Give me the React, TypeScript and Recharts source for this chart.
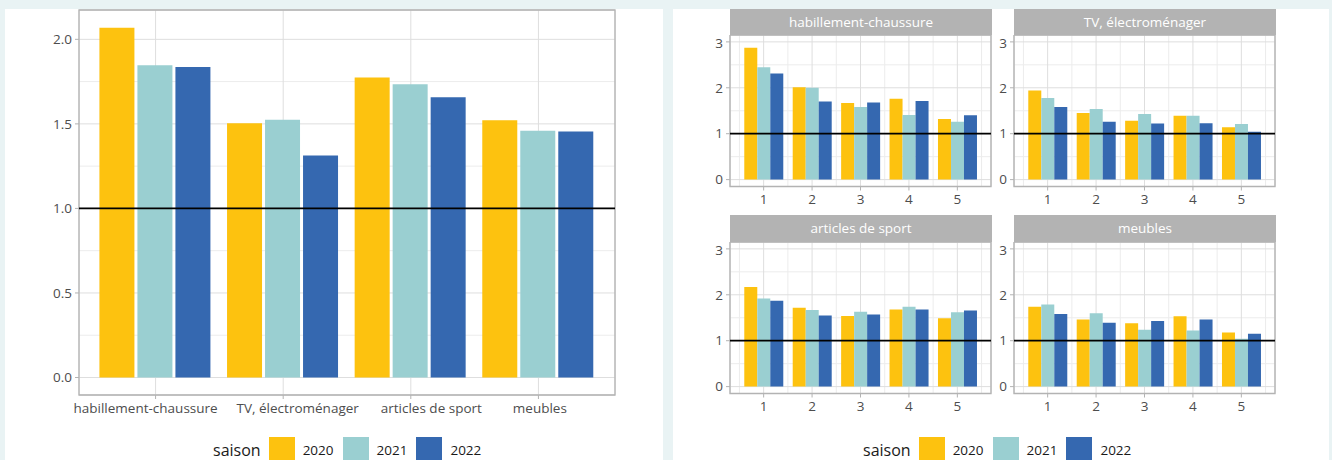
import React from 'react';
import { BarChart, Bar, XAxis, YAxis, CartesianGrid, ReferenceLine, ReferenceArea } from 'recharts';

// ---------- data ----------
const categories = ['habillement-chaussure', 'TV, électroménager', 'articles de sport', 'meubles'];
const seasons = ['2020', '2021', '2022'];

const overall2020 = [2.068, 1.504, 1.774, 1.522];
const overall2021 = [1.847, 1.525, 1.735, 1.46];
const overall2022 = [1.837, 1.313, 1.657, 1.455];

const ranks = [1, 2, 3, 4, 5];

const habillement2020 = [2.87, 2.01, 1.67, 1.76, 1.32];
const habillement2021 = [2.45, 2.0, 1.58, 1.41, 1.26];
const habillement2022 = [2.31, 1.7, 1.68, 1.71, 1.4];

const tv2020 = [1.94, 1.45, 1.28, 1.39, 1.14];
const tv2021 = [1.78, 1.54, 1.43, 1.39, 1.21];
const tv2022 = [1.58, 1.26, 1.22, 1.23, 1.04];

const sport2020 = [2.17, 1.72, 1.54, 1.68, 1.49];
const sport2021 = [1.92, 1.67, 1.63, 1.74, 1.62];
const sport2022 = [1.87, 1.55, 1.57, 1.68, 1.66];

const meubles2020 = [1.74, 1.46, 1.38, 1.53, 1.18];
const meubles2021 = [1.79, 1.6, 1.24, 1.22, 1.04];
const meubles2022 = [1.58, 1.39, 1.43, 1.46, 1.15];

const mainYTicks = [0, 0.5, 1, 1.5, 2];
const mainYMinor = [0.25, 0.75, 1.25, 1.75];
const facetYTicks = [0, 1, 2, 3];
const facetYMinor = [0.5, 1.5, 2.5];
const facetXMinor = [0.5, 1.5, 2.5, 3.5, 4.5, 5.5];

// ---------- styles ----------
const COLORS = ['#FDC20F', '#9ACFD1', '#3568B0'];
const FONT = '"Open Sans", "Noto Sans", sans-serif';
const GRID_MAJOR = '#dedede';
const GRID_MINOR = '#ececec';
const BORDER = '#b3b3b3';
const AXIS_TEXT = '#4d4d4d';
const FS = 13.5;
// horizontal nudge of the main chart's category labels (px), as in the reference
const LABEL_NUDGE = [-10, 14.5, 20.5, 1.4];

const mainData = categories.map((c, i) => ({
  pos: i + 1,
  cat: c,
  y2020: overall2020[i],
  y2021: overall2021[i],
  y2022: overall2022[i],
}));

const mkFacet = (a: number[], b: number[], c: number[]) =>
  ranks.map((r, i) => ({ rank: r, y2020: a[i], y2021: b[i], y2022: c[i] }));

const facets = [
  { title: 'habillement-chaussure', data: mkFacet(habillement2020, habillement2021, habillement2022) },
  { title: 'TV, électroménager', data: mkFacet(tv2020, tv2021, tv2022) },
  { title: 'articles de sport', data: mkFacet(sport2020, sport2021, sport2022) },
  { title: 'meubles', data: mkFacet(meubles2020, meubles2021, meubles2022) },
];

const seriesKeys = ['y2020', 'y2021', 'y2022'];

function Legend({ left, top }: { left: number; top: number }) {
  return (
    <div style={{ position: 'absolute', left, top, height: 26, display: 'flex', alignItems: 'center', fontFamily: FONT, color: '#1a1a1a' }}>
      <span style={{ fontSize: 16, marginRight: 8 }}>saison</span>
      {seasons.map((s, i) => (
        <React.Fragment key={s}>
          <span style={{ width: 26, height: 26, background: COLORS[i], marginRight: 8, display: 'inline-block' }} />
          <span style={{ fontSize: FS, marginRight: 9 }}>{s}</span>
        </React.Fragment>
      ))}
    </div>
  );
}

function CategoryTick(props: any) {
  const { x, y, payload } = props;
  const idx = Math.round(payload.value) - 1;
  const label = categories[idx] ?? '';
  return (
    <text x={x + (LABEL_NUDGE[idx] ?? 0)} y={y} dy="0.71em" textAnchor="middle" fill={AXIS_TEXT} fontSize={FS} fontFamily={FONT}>
      {label}
    </text>
  );
}

const PW = 261;
const PH = 151.5;
const YW = 30;
const XH = 25;
const FX_DOMAIN: [number, number] = [0.305, 5.695];
const FY_DOMAIN: [number, number] = [-0.15, 3.15];

function Facet({ title, data, plotLeft, plotTop }: { title: string; data: any[]; plotLeft: number; plotTop: number }) {
  return (
    <>
      <div
        style={{
          position: 'absolute', left: plotLeft, top: plotTop - 26.5, width: PW + 1, height: 26.5,
          background: '#b3b3b3', color: '#fff', fontSize: FS, fontFamily: FONT,
          display: 'flex', alignItems: 'center', justifyContent: 'center',
        }}
      >
        {title}
      </div>
      <div style={{ position: 'absolute', left: plotLeft - YW, top: plotTop }}>
        <BarChart width={YW + PW + 1} height={PH + XH} data={data} margin={{ top: 0, right: 1, bottom: 0, left: 0 }} barCategoryGap="10%" barGap={0}>
          <XAxis xAxisId="minor" type="number" dataKey="rank" hide domain={FX_DOMAIN} ticks={facetXMinor} allowDataOverflow />
          <YAxis yAxisId="minor" type="number" hide domain={FY_DOMAIN} ticks={facetYMinor} allowDataOverflow />
          <CartesianGrid xAxisId="minor" yAxisId="minor" stroke={GRID_MINOR} strokeWidth={1} />
          <CartesianGrid stroke={GRID_MAJOR} strokeWidth={1} />
          <XAxis
            type="number" dataKey="rank" domain={FX_DOMAIN} ticks={ranks} allowDataOverflow height={XH}
            axisLine={false} tickLine={{ stroke: BORDER }} tickSize={4} tickMargin={4}
            tick={{ fill: AXIS_TEXT, fontSize: FS, fontFamily: FONT }}
          />
          <YAxis
            type="number" domain={FY_DOMAIN} ticks={facetYTicks} allowDataOverflow width={YW}
            axisLine={false} tickLine={{ stroke: BORDER }} tickSize={4} tickMargin={3}
            tick={{ fill: AXIS_TEXT, fontSize: FS, fontFamily: FONT }}
          />
          {seriesKeys.map((k, i) => (
            <Bar key={k} dataKey={k} fill={COLORS[i]} isAnimationActive={false} />
          ))}
          <ReferenceLine y={1} stroke="#000" strokeWidth={1.7} />
          <ReferenceArea x1={FX_DOMAIN[0]} x2={FX_DOMAIN[1]} y1={FY_DOMAIN[0]} y2={FY_DOMAIN[1]} fill="none" fillOpacity={0} stroke={BORDER} strokeWidth={1.3} />
        </BarChart>
      </div>
    </>
  );
}

const MX_DOMAIN: [number, number] = [0.4, 4.6];
const MY_DOMAIN: [number, number] = [-0.1035, 2.1735];

export default function App() {
  const facetPos = [
    [730, 35],
    [1014, 35],
    [730, 241.7],
    [1014, 241.7],
  ];
  return (
    <div style={{ position: 'absolute', left: 0, top: 0, width: 1332, height: 460, background: '#E9F3F4', overflow: 'hidden', fontFamily: FONT }}>
      <div style={{ position: 'absolute', left: 5, top: 9, width: 658, height: 460, background: '#fff' }} />
      <div style={{ position: 'absolute', left: 673, top: 9, width: 656, height: 460, background: '#fff' }} />

      <div style={{ position: 'absolute', left: 0, top: 0 }}>
        <BarChart width={640} height={430} data={mainData} margin={{ top: 10, right: 25, left: 29, bottom: 5 }} barCategoryGap="6%" barGap={3}>
          <YAxis yAxisId="minor" type="number" hide domain={MY_DOMAIN} ticks={mainYMinor} allowDataOverflow />
          <CartesianGrid yAxisId="minor" vertical={false} stroke={GRID_MINOR} strokeWidth={1} />
          <CartesianGrid stroke={GRID_MAJOR} strokeWidth={1} />
          <XAxis
            type="number" dataKey="pos" domain={MX_DOMAIN} ticks={[1, 2, 3, 4]} allowDataOverflow height={30}
            axisLine={false} tickLine={{ stroke: BORDER }} tickSize={4} tickMargin={4}
            tick={<CategoryTick />}
          />
          <YAxis
            type="number" domain={MY_DOMAIN} ticks={mainYTicks} allowDataOverflow width={50}
            tickFormatter={(v: number) => v.toFixed(1)}
            axisLine={false} tickLine={{ stroke: BORDER }} tickSize={4} tickMargin={3}
            tick={{ fill: AXIS_TEXT, fontSize: FS, fontFamily: FONT }}
          />
          {seriesKeys.map((k, i) => (
            <Bar key={k} dataKey={k} fill={COLORS[i]} isAnimationActive={false} />
          ))}
          <ReferenceLine y={1} stroke="#000" strokeWidth={1.7} />
          <ReferenceArea x1={MX_DOMAIN[0]} x2={MX_DOMAIN[1]} y1={MY_DOMAIN[0]} y2={MY_DOMAIN[1]} fill="none" fillOpacity={0} stroke={BORDER} strokeWidth={1.3} />
        </BarChart>
      </div>

      {facets.map((f, i) => (
        <Facet key={f.title} title={f.title} data={f.data} plotLeft={facetPos[i][0]} plotTop={facetPos[i][1]} />
      ))}

      <Legend left={213} top={437} />
      <Legend left={863} top={437} />
    </div>
  );
}
